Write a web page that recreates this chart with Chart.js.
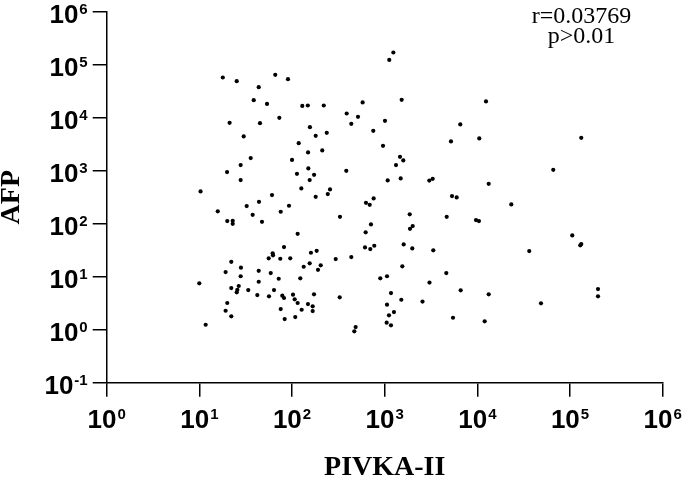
<!DOCTYPE html>
<html>
<head>
<meta charset="utf-8">
<script src="https://cdn.jsdelivr.net/npm/chart.js@4"></script>
<style>
  html, body { margin: 0; padding: 0; background: #fff; }
  #wrap { width: 685px; height: 478px; }
</style>
</head>
<body>
<div id="wrap"><canvas id="c" width="685" height="478"></canvas></div>
<script>
// PIVKA-II values (x)
const pivka = [
  1240, 1120, 17.9, 25.3, 65.9, 90.4, 43.7, 38.6, 53.7, 129,
  148, 220, 578, 1525, 389, 515, 436, 1007, 21.2, 45.1,
  72.9, 156, 753, 30.1, 180, 237, 118, 149, 212, 959,
  35.8, 100, 27.9, 19.9, 150, 113, 173, 155, 27.9, 385,
  1462, 1587, 1324, 1077, 1488, 3030, 126, 257, 243, 180,
  60.8, 10.3, 760, 44, 32.4, 92.7, 75.5, 15.8, 37.6, 20,
  22.9, 22.9, 47.4, 115, 329, 628, 689, 711, 623, 613,
  699, 772, 1862, 1875, 2005, 1603, 1985, 1549, 896, 1059,
  3043, 2558, 1169, 1511, 1059, 1259, 1112, 1050, 1169, 486,
  470, 327, 436, 296, 184.5, 160, 81.9, 61.8, 62.3, 56,
  74.7, 95.7, 155, 133.6, 204, 190.6, 122.8, 22.1, 19.2, 28.1,
  27.9, 43.7, 43.7, 58.9, 71.8, 9.98, 22.1, 26.6, 25.7, 25.3,
  33.7, 63.9, 42.2, 56.4, 78.5, 81.9, 102.4, 106.8, 115, 172.6,
  148.6, 167, 167, 127, 20, 19.2, 22.1, 75.5, 83.3, 108.4,
  11.7, 12390, 6540, 5190, 10490, 132200, 65900, 13250, 3296, 5325,
  5980, 23230, 4667, 9665, 10400, 105700, 129000, 132200, 3345, 36300,
  4620, 6607, 13250, 200400, 200400, 48600, 5458, 11990
];
// AFP values (y), same order
const afp = [
  170000, 123000, 57400, 48900, 64300, 53300, 37700, 21400, 18200, 16700,
  17000, 17000, 19400, 21700, 12000, 10400, 7660, 8730, 8000, 7890,
  9940, 6640, 5650, 4430, 4550, 5180, 3310, 2210, 2410, 2950,
  1730, 1600, 1275, 940, 1104, 874, 836, 665, 665, 995,
  1828, 1563, 1275, 656, 716, 650, 463, 444, 362, 322,
  347, 407, 300, 259, 215, 218, 168, 171, 147, 112,
  113.5, 99.6, 108.6, 64.5, 135, 248, 227, 97, 68.6, 35.7,
  33.2, 38.4, 150, 80.2, 90.2, 40.7, 34.2, 15.7, 9.3, 10.2,
  7.76, 3.40, 4.92, 3.67, 2.96, 2.15, 1.87, 1.355, 1.21, 1.12,
  0.93, 4.08, 23.5, 21.5, 30.8, 28.3, 36.2, 27.6, 25.3, 22.2,
  21.8, 22.2, 17.9, 15.4, 16.4, 13.5, 9.3, 19.1, 12.2, 14.8,
  10.2, 12.9, 8.03, 11.7, 9.15, 7.5, 6.1, 6.67, 5.67, 5.07,
  5.6, 5.6, 4.51, 4.26, 4.38, 3.96, 4.57, 3.74, 3.19, 4.65,
  3.05, 2.76, 2.25, 2.38, 3.19, 2.28, 1.79, 2.45, 1.59, 1.73,
  1.24, 20270, 7460, 3565, 4060, 4170, 1040, 566, 703, 332,
  313, 231, 135, 117, 112, 60.2, 39, 41.3, 31.4, 30.5,
  11.7, 5.53, 4.65, 5.85, 4.26, 3.14, 1.68, 1.44
];
// Tick exponents (labels 10^n)
const xExponents = [0, 1, 2, 3, 4, 5, 6];
const yExponents = [-1, 0, 1, 2, 3, 4, 5, 6];
// Texts
const xTitle = 'PIVKA-II';
const yTitle = 'AFP';
const statLines = ['r=0.03769', 'p>0.01'];

const points = pivka.map((v, i) => ({ x: v, y: afp[i] }));

const SANS = '"Liberation Sans", Arial, Helvetica, sans-serif';
const SERIF = '"Liberation Serif", "Times New Roman", Times, serif';

const textPlugin = {
  id: 'textPlugin',
  afterDraw(chart) {
    const ctx = chart.ctx;
    const xs = chart.scales.x, ys = chart.scales.y;
    const big = 'bold 26px ' + SANS;
    const small = 'bold 15px ' + SANS;
    ctx.save();
    ctx.fillStyle = '#000';
    ctx.textBaseline = 'alphabetic';
    ctx.textAlign = 'left';
    // x tick labels
    xExponents.forEach(e => {
      const px = xs.getPixelForValue(Math.pow(10, e));
      ctx.font = big; const w1 = ctx.measureText('10').width;
      ctx.font = small; const w2 = ctx.measureText(String(e)).width;
      const start = px - (w1 + w2 + 1) / 2;
      ctx.font = big; ctx.fillText('10', start, xs.top + 45.5);
      ctx.font = small; ctx.fillText(String(e), start + w1 + 1, xs.top + 36.5);
    });
    // y tick labels
    yExponents.forEach(e => {
      const py = ys.getPixelForValue(Math.pow(10, e));
      const right = ys.right - 19;
      ctx.font = small; const w2 = ctx.measureText(String(e)).width;
      ctx.font = big; const w1 = ctx.measureText('10').width;
      const start = right - w2 - 1 - w1;
      ctx.font = big; ctx.fillText('10', start, py + 11);
      ctx.font = small; ctx.fillText(String(e), start + w1 + 1, py + 2.5);
    });
    // axis titles
    ctx.font = 'bold 28px ' + SERIF;
    ctx.textAlign = 'center';
    ctx.fillText(xTitle, (xs.left + xs.right) / 2, 475);
    ctx.save();
    ctx.translate(19, (ys.top + ys.bottom) / 2);
    ctx.rotate(-Math.PI / 2);
    ctx.fillText(yTitle, 0, 0);
    ctx.restore();
    // stats
    ctx.font = '24px ' + SERIF;
    ctx.fillText(statLines[0], 581.5, 22.7);
    ctx.fillText(statLines[1], 581.5, 42.7);
    ctx.restore();
  }
};

function powerTicks(exps) {
  return function (scale) {
    scale.ticks = exps.map(e => ({ value: Math.pow(10, e) }));
  };
}

new Chart(document.getElementById('c'), {
  type: 'scatter',
  data: {
    datasets: [{
      data: points,
      backgroundColor: '#000',
      borderColor: '#000',
      pointRadius: 2.1,
      pointHoverRadius: 2.1,
      borderWidth: 0
    }]
  },
  options: {
    responsive: false,
    animation: false,
    events: [],
    layout: { padding: { top: 11.7, right: 22.3, left: 0, bottom: 0 } },
    plugins: { legend: { display: false }, tooltip: { enabled: false } },
    scales: {
      x: {
        type: 'logarithmic',
        position: 'bottom',
        min: 1, max: 1e6,
        afterBuildTicks: powerTicks(xExponents),
        afterFit(scale) { scale.height = 95.3; },
        ticks: { display: false },
        grid: { display: true, drawOnChartArea: false, drawTicks: true, tickLength: 14, color: '#000', lineWidth: 1.5 },
        border: { display: true, color: '#000', width: 1.5 }
      },
      y: {
        type: 'logarithmic',
        position: 'left',
        min: 0.1, max: 1e6,
        afterBuildTicks: powerTicks(yExponents),
        afterFit(scale) { scale.width = 106.7; },
        ticks: { display: false },
        grid: { display: true, drawOnChartArea: false, drawTicks: true, tickLength: 14, color: '#000', lineWidth: 1.5 },
        border: { display: true, color: '#000', width: 1.5 }
      }
    }
  },
  plugins: [textPlugin]
});
</script>
</body>
</html>
